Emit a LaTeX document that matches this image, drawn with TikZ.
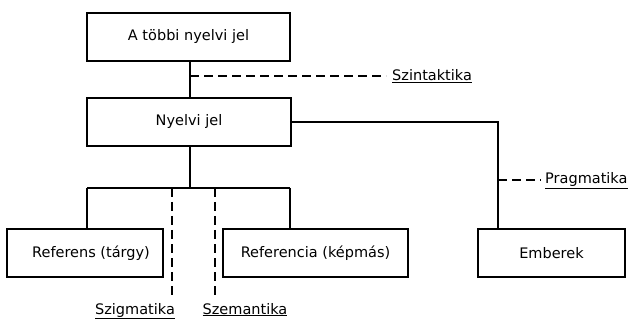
\documentclass[tikz,border=0pt]{standalone}
\usepackage{fontspec}
\setmainfont{DejaVu Sans}
\begin{document}
\begin{tikzpicture}[x=1pt,y=-1pt,
  box/.style={draw,line width=1.6pt,minimum height=48pt,inner sep=0pt,font=\fontsize{14.5}{17}\selectfont},
  conn/.style={line width=1.4pt},
  dsh/.style={line width=1.4pt,dash pattern=on 9pt off 5pt},
  lab/.style={font=\fontsize{14.5}{17}\selectfont,inner sep=0pt}]
\useasboundingbox (0,0) rectangle (631,320);
\node[box,minimum width=203pt] (b1) at (188.5,37) {A többi nyelvi jel};
\node[box,minimum width=204pt] (b2) at (189,122) {Nyelvi jel};
\node[box,minimum width=156pt] (ref) at (85,253) {\hspace*{12pt}Referens (tárgy)};
\node[box,minimum width=185pt] (refc) at (315.5,253) {Referencia (képmás)};
\node[box,minimum width=147pt] (em) at (551.5,253) {Emberek};
\node[lab,anchor=base west] (szt) at (392,81) {\underline{Szintaktika}};
\node[lab,anchor=base west] (prg) at (545,184) {\underline{Pragmatika}};
\node[lab,anchor=base] (szg) at (135,314) {\underline{Szigmatika}};
\node[lab,anchor=base] (szm) at (245,314) {\underline{Szemantika}};
\coordinate (c1) at (190,76);
\coordinate (c1e) at (386,76);
\coordinate (split) at (190,188);
\coordinate (jl) at (87,188);
\coordinate (jr) at (290,188);
\coordinate (rt) at (498,122);
\coordinate (pr) at (498,180);
\coordinate (pre) at (541,180);
\coordinate (d1t) at (172,188);
\coordinate (d1b) at (172,298);
\coordinate (d2t) at (215,188);
\coordinate (d2b) at (215,298);
\draw[conn] (b1.south -| c1) -- (b2.north -| c1);
\draw[dsh] (c1) -- (c1e);
\draw[conn] (b2.south -| split) -- (split);
\draw[conn] (jl) -- (jr);
\draw[conn] (jl) -- (jl |- ref.north);
\draw[conn] (jr) -- (jr |- refc.north);
\draw[conn] (b2.east) -- (rt) -- (rt |- em.north);
\draw[dsh] (pr) -- (pre);
\draw[dsh] (d1t) -- (d1b);
\draw[dsh] (d2t) -- (d2b);
\end{tikzpicture}
\end{document}
